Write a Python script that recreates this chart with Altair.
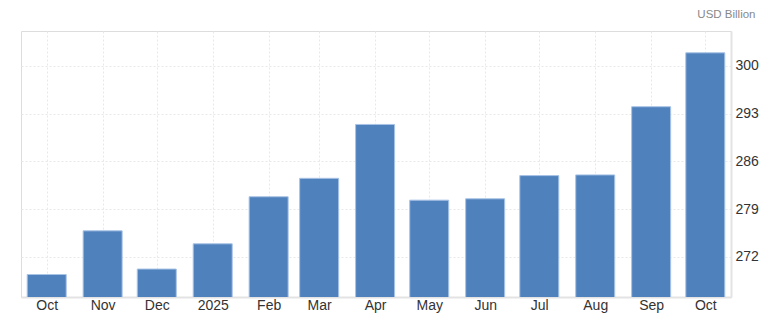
import altair as alt
import pandas as pd

months = ["2024-10-01", "2024-11-01", "2024-12-01", "2025-01-01", "2025-02-01",
          "2025-03-01", "2025-04-01", "2025-05-01", "2025-06-01", "2025-07-01",
          "2025-08-01", "2025-09-01", "2025-10-01"]
values = [269.4, 275.8, 270.2, 273.9, 280.8, 283.5, 291.4, 280.3, 280.5, 283.9, 284.0, 294.0, 301.9]
y_ticks = [272, 279, 286, 293, 300]
unit_label = "USD Billion"

df = pd.DataFrame({"date": months, "value": values})
tick_ms = [int(pd.Timestamp(m, tz="UTC").value // 10**6) for m in months]

FONT = "Liberation Sans"

x_domain = [int(pd.Timestamp("2024-09-16 18:00", tz="UTC").value // 10**6),
            int(pd.Timestamp("2025-10-15 06:00", tz="UTC").value // 10**6)]

chart = alt.Chart(df).mark_bar(
    size=39, color="#4f81bd", stroke="#a8c3e6", strokeWidth=1, clip=True
).encode(
    x=alt.X("date:T",
            scale=alt.Scale(type="utc", domain=x_domain, padding=0, nice=False),
            axis=alt.Axis(
                title=None, values=tick_ms,
                labelExpr="utcFormat(datum.value, '%m') == '01' ? utcFormat(datum.value, '%Y') : utcFormat(datum.value, '%b')",
                ticks=False, labelPadding=1, labelFontSize=14, labelColor="#333333",
                labelFont=FONT, domainColor="#e3e3e3", domainWidth=2,
                gridColor="#e8e8e8", gridDash=[2, 2], labelFlush=False,
                labelOverlap=False)),
    y=alt.Y("value:Q",
            scale=alt.Scale(domain=[266.1, 305.1], nice=False, zero=False),
            axis=alt.Axis(
                orient="right", values=y_ticks, ticks=False, labelPadding=4,
                labelFontSize=14, labelColor="#333333", labelFont=FONT,
                domainColor="#e3e3e3", domainWidth=2,
                gridColor="#e8e8e8", gridDash=[2, 2],
                title=unit_label, titleAngle=0, titleX=24, titleY=-17,
                titleAlign="right", titleBaseline="middle", titleFontSize=11.5,
                titleFontWeight="normal", titleColor="#888888", titleFont=FONT)),
).properties(
    width=710, height=266,
    autosize=alt.AutoSizeParams(type="none"),
    padding={"left": 21, "top": 31, "right": 31, "bottom": 19},
).configure_view(
    stroke="#e8e8e8", strokeWidth=1
).configure(background="white")

chart.save("out.html", embed_options={"renderer": "svg", "actions": False})
